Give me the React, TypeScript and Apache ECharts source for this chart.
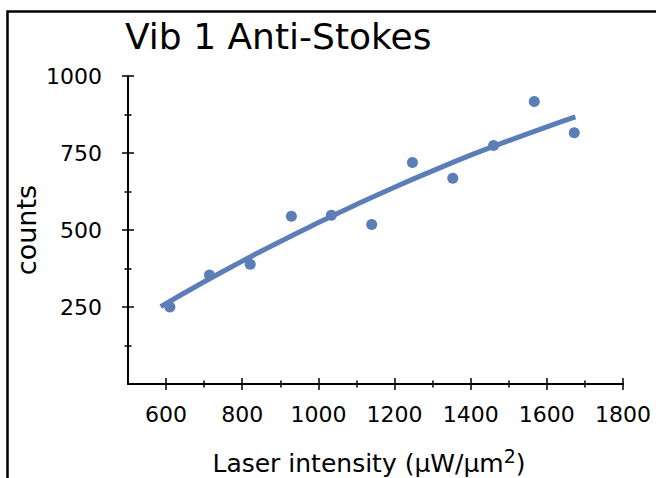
import React, { useEffect, useRef } from "react";
import * as echarts from "echarts";

// Measured data points
const intensity = [610, 714, 821, 929, 1034, 1140, 1247, 1353, 1460, 1567, 1672];
const counts = [250, 354, 389, 545, 548, 518, 719, 668, 774, 917, 816];

// Fit curve
const fitIntensity = [586, 700, 800, 900, 1000, 1100, 1200, 1300, 1400, 1500, 1600, 1675];
const fitCounts = [251, 332, 399, 463, 524, 583, 639, 692, 743, 790, 835, 867];

// Ticks
const xMajorTicks = [600, 800, 1000, 1200, 1400, 1600, 1800];
const xMinorTicks = [700, 900, 1100, 1300, 1500, 1700];
const yMajorTicks = [250, 500, 750, 1000];
const yMinorTicks = [125, 375, 625, 875];

const title = "Vib 1 Anti-Stokes";
const xName = "{m|Laser intensity (μW/μm}{sup|2}{m|)}";
const yName = "counts";

const FONT = "DejaVu Sans";
const BLUE = "#5B7DB8";

export default function App() {
  const ref = useRef<HTMLDivElement>(null);

  useEffect(() => {
    if (!ref.current) return;
    const chart = echarts.init(ref.current, null, { renderer: "svg" });

    const tickAxis = (
      kind: "x" | "y",
      values: number[],
      inside: boolean,
      length: number
    ) => ({
      type: "value",
      position: kind === "x" ? "bottom" : "left",
      min: kind === "x" ? 500 : 0,
      max: kind === "x" ? 1800 : 1000,
      axisLine: { show: false },
      axisLabel: { show: false },
      splitLine: { show: false },
      axisTick: {
        show: true,
        inside,
        length,
        customValues: values,
        lineStyle: { color: "#000", width: 1.5 },
      },
    });

    const option: any = {
      animation: false,
      backgroundColor: "#fff",
      textStyle: { fontFamily: FONT },
      title: {
        text: title,
        left: 125,
        top: 18,
        padding: 0,
        textStyle: { fontFamily: FONT, fontSize: 36, fontWeight: "normal", color: "#000" },
      },
      grid: {
        left: 128,
        right: 33,
        top: 76,
        bottom: 94,
        containLabel: false,
        outerBoundsMode: "none",
      },
      xAxis: [
        {
          type: "value",
          position: "bottom",
          min: 500,
          max: 1800,
          name: xName,
          nameLocation: "middle",
          nameGap: 62,
          nameMoveOverlap: false,
          nameTextStyle: {
            fontFamily: FONT,
            fontSize: 25,
            color: "#000",
            padding: [0, 13, 0, 0],
            rich: {
              m: { fontSize: 25, lineHeight: 30, verticalAlign: "bottom", fontFamily: FONT, color: "#000" },
              sup: { fontSize: 19, lineHeight: 2, verticalAlign: "top", fontFamily: FONT, color: "#000" },
            },
          },
          axisLine: { show: true, lineStyle: { color: "#000", width: 2 } },
          axisTick: {
            show: true,
            inside: false,
            length: 6,
            customValues: xMajorTicks,
            lineStyle: { color: "#000", width: 1.5 },
          },
          axisLabel: {
            show: true,
            customValues: xMajorTicks,
            formatter: (v: number) => String(v),
            margin: 19,
            fontSize: 22,
            fontFamily: FONT,
            color: "#000",
          },
          splitLine: { show: false },
        },
        tickAxis("x", xMajorTicks, true, 6),
        tickAxis("x", xMinorTicks, false, 3.5),
        tickAxis("x", xMinorTicks, true, 3.5),
      ],
      yAxis: [
        {
          type: "value",
          position: "left",
          min: 0,
          max: 1000,
          name: yName,
          nameLocation: "middle",
          nameGap: 88,
          nameMoveOverlap: false,
          nameTextStyle: { fontFamily: FONT, fontSize: 27, color: "#000", padding: [0, 0, 0, 0] },
          axisLine: { show: true, lineStyle: { color: "#000", width: 2 } },
          axisTick: {
            show: true,
            inside: false,
            length: 6,
            customValues: yMajorTicks,
            lineStyle: { color: "#000", width: 1.5 },
          },
          axisLabel: {
            show: true,
            customValues: yMajorTicks,
            formatter: (v: number) => String(v),
            margin: 26,
            fontSize: 22,
            fontFamily: FONT,
            color: "#000",
          },
          splitLine: { show: false },
        },
        tickAxis("y", yMajorTicks, true, 6),
        tickAxis("y", yMinorTicks, false, 3.5),
        tickAxis("y", yMinorTicks, true, 3.5),
      ],
      series: [
        {
          type: "line",
          xAxisIndex: 0,
          yAxisIndex: 0,
          data: fitIntensity.map((x, i) => [x, fitCounts[i]]),
          smooth: true,
          showSymbol: false,
          symbol: "none",
          lineStyle: { color: BLUE, width: 5 },
          itemStyle: { color: BLUE },
          z: 2,
        },
        {
          type: "scatter",
          xAxisIndex: 0,
          yAxisIndex: 0,
          data: intensity.map((x, i) => [x, counts[i]]),
          symbol: "circle",
          symbolSize: 11,
          itemStyle: { color: BLUE, opacity: 1 },
          z: 3,
        },
      ],
      graphic: [
        {
          type: "rect",
          shape: { x: 7.5, y: 11.5, width: 700, height: 500 },
          style: { fill: "none", stroke: "#000", lineWidth: 2.5 },
          silent: true,
          z: 10,
        },
      ],
    };

    chart.setOption(option);
    return () => chart.dispose();
  }, []);

  return (
    <div
      ref={ref}
      style={{ position: "fixed", left: 0, top: 0, width: 656, height: 478 }}
    />
  );
}
